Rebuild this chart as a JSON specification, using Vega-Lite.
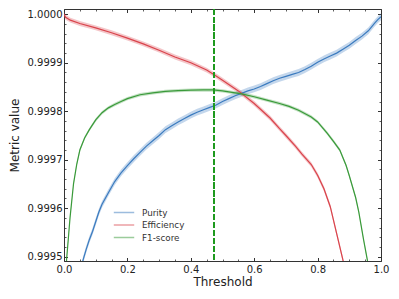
{
  "$schema": "https://vega.github.io/schema/vega-lite/v6.json",
  "width": 317,
  "height": 252,
  "autosize": {"type": "none"},
  "padding": {"left": 64, "top": 9, "right": 18, "bottom": 38},
  "config": {
    "font": "DejaVu Sans",
    "view": {"stroke": "#333333", "strokeWidth": 1},
    "axis": {"grid": false, "domain": false, "tickColor": "#333333", "labelColor": "#222222", "titleColor": "#222222", "labelFont": "DejaVu Sans", "titleFont": "DejaVu Sans", "titleFontWeight": "normal", "labelFlush": false, "labelOverlap": false},
    "legend": {"orient": "none", "legendX": 53, "legendY": 196.5, "padding": 0, "symbolType": "M-1.7,0H1.7", "symbolSize": 144, "symbolStrokeWidth": 1.5, "symbolOpacity": 0.5, "symbolFillColor": "transparent", "labelFontSize": 8.8, "labelFont": "DejaVu Sans", "labelColor": "#333333", "labelOffset": 11, "rowPadding": 0.5}
  },
  "data": {"values": [
    {"series": "Purity", "t": 0.05, "v": 0.99946, "lo": 0.999453, "hi": 0.999467},
    {"series": "Purity", "t": 0.06, "v": 0.999493, "lo": 0.999486, "hi": 0.9995},
    {"series": "Purity", "t": 0.07, "v": 0.999515, "lo": 0.999508, "hi": 0.999522},
    {"series": "Purity", "t": 0.08, "v": 0.999535, "lo": 0.999528, "hi": 0.999542},
    {"series": "Purity", "t": 0.09, "v": 0.999552, "lo": 0.999545, "hi": 0.999559},
    {"series": "Purity", "t": 0.10, "v": 0.999572, "lo": 0.999565, "hi": 0.999579},
    {"series": "Purity", "t": 0.11, "v": 0.999592, "lo": 0.999585, "hi": 0.999599},
    {"series": "Purity", "t": 0.12, "v": 0.999608, "lo": 0.999601, "hi": 0.999615},
    {"series": "Purity", "t": 0.14, "v": 0.999632, "lo": 0.999625, "hi": 0.999639},
    {"series": "Purity", "t": 0.16, "v": 0.999655, "lo": 0.999648, "hi": 0.999662},
    {"series": "Purity", "t": 0.18, "v": 0.999673, "lo": 0.999666, "hi": 0.99968},
    {"series": "Purity", "t": 0.20, "v": 0.999688, "lo": 0.999681, "hi": 0.999695},
    {"series": "Purity", "t": 0.22, "v": 0.999702, "lo": 0.999695, "hi": 0.999709},
    {"series": "Purity", "t": 0.24, "v": 0.999715, "lo": 0.999708, "hi": 0.999722},
    {"series": "Purity", "t": 0.26, "v": 0.999728, "lo": 0.999721, "hi": 0.999735},
    {"series": "Purity", "t": 0.28, "v": 0.999739, "lo": 0.999732, "hi": 0.999746},
    {"series": "Purity", "t": 0.30, "v": 0.99975, "lo": 0.999743, "hi": 0.999757},
    {"series": "Purity", "t": 0.32, "v": 0.999762, "lo": 0.999755, "hi": 0.999769},
    {"series": "Purity", "t": 0.34, "v": 0.99977, "lo": 0.999763, "hi": 0.999777},
    {"series": "Purity", "t": 0.36, "v": 0.999778, "lo": 0.999771, "hi": 0.999785},
    {"series": "Purity", "t": 0.38, "v": 0.999785, "lo": 0.999778, "hi": 0.999792},
    {"series": "Purity", "t": 0.40, "v": 0.999792, "lo": 0.999785, "hi": 0.999799},
    {"series": "Purity", "t": 0.42, "v": 0.999798, "lo": 0.999791, "hi": 0.999805},
    {"series": "Purity", "t": 0.44, "v": 0.999803, "lo": 0.999796, "hi": 0.99981},
    {"series": "Purity", "t": 0.46, "v": 0.999808, "lo": 0.999801, "hi": 0.999815},
    {"series": "Purity", "t": 0.48, "v": 0.999813, "lo": 0.999806, "hi": 0.99982},
    {"series": "Purity", "t": 0.50, "v": 0.99982, "lo": 0.999813, "hi": 0.999827},
    {"series": "Purity", "t": 0.52, "v": 0.999826, "lo": 0.999819, "hi": 0.999833},
    {"series": "Purity", "t": 0.54, "v": 0.999832, "lo": 0.999825, "hi": 0.999839},
    {"series": "Purity", "t": 0.56, "v": 0.999837, "lo": 0.99983, "hi": 0.999844},
    {"series": "Purity", "t": 0.58, "v": 0.999842, "lo": 0.999835, "hi": 0.999849},
    {"series": "Purity", "t": 0.60, "v": 0.999846, "lo": 0.999839, "hi": 0.999853},
    {"series": "Purity", "t": 0.62, "v": 0.999851, "lo": 0.999844, "hi": 0.999858},
    {"series": "Purity", "t": 0.64, "v": 0.999857, "lo": 0.99985, "hi": 0.999864},
    {"series": "Purity", "t": 0.66, "v": 0.999863, "lo": 0.999856, "hi": 0.99987},
    {"series": "Purity", "t": 0.68, "v": 0.999868, "lo": 0.999861, "hi": 0.999875},
    {"series": "Purity", "t": 0.70, "v": 0.999872, "lo": 0.999865, "hi": 0.999879},
    {"series": "Purity", "t": 0.72, "v": 0.999876, "lo": 0.999869, "hi": 0.999883},
    {"series": "Purity", "t": 0.74, "v": 0.99988, "lo": 0.999873, "hi": 0.999887},
    {"series": "Purity", "t": 0.76, "v": 0.999886, "lo": 0.999879, "hi": 0.999893},
    {"series": "Purity", "t": 0.78, "v": 0.999893, "lo": 0.999886, "hi": 0.9999},
    {"series": "Purity", "t": 0.80, "v": 0.999901, "lo": 0.999894, "hi": 0.999908},
    {"series": "Purity", "t": 0.82, "v": 0.999908, "lo": 0.999901, "hi": 0.999915},
    {"series": "Purity", "t": 0.84, "v": 0.999914, "lo": 0.999907, "hi": 0.999921},
    {"series": "Purity", "t": 0.86, "v": 0.99992, "lo": 0.999913, "hi": 0.999927},
    {"series": "Purity", "t": 0.88, "v": 0.999928, "lo": 0.999921, "hi": 0.999935},
    {"series": "Purity", "t": 0.90, "v": 0.999936, "lo": 0.999929, "hi": 0.999943},
    {"series": "Purity", "t": 0.92, "v": 0.999946, "lo": 0.999939, "hi": 0.999953},
    {"series": "Purity", "t": 0.94, "v": 0.999955, "lo": 0.999948, "hi": 0.999962},
    {"series": "Purity", "t": 0.96, "v": 0.999966, "lo": 0.999959, "hi": 0.999973},
    {"series": "Purity", "t": 0.98, "v": 0.999982, "lo": 0.999975, "hi": 0.999989},
    {"series": "Purity", "t": 0.99, "v": 0.999989, "lo": 0.999982, "hi": 0.999996},
    {"series": "Purity", "t": 1.00, "v": 0.999995, "lo": 0.999988, "hi": 1.000002},
    {"series": "Efficiency", "t": 0.0, "v": 1.0, "lo": 0.999995, "hi": 1.000005},
    {"series": "Efficiency", "t": 0.005, "v": 0.999994, "lo": 0.999989, "hi": 0.999999},
    {"series": "Efficiency", "t": 0.02, "v": 0.999988, "lo": 0.999983, "hi": 0.999993},
    {"series": "Efficiency", "t": 0.05, "v": 0.999981, "lo": 0.999976, "hi": 0.999986},
    {"series": "Efficiency", "t": 0.10, "v": 0.999972, "lo": 0.999967, "hi": 0.999977},
    {"series": "Efficiency", "t": 0.15, "v": 0.999962, "lo": 0.999957, "hi": 0.999967},
    {"series": "Efficiency", "t": 0.20, "v": 0.999951, "lo": 0.999946, "hi": 0.999956},
    {"series": "Efficiency", "t": 0.25, "v": 0.999939, "lo": 0.999934, "hi": 0.999944},
    {"series": "Efficiency", "t": 0.30, "v": 0.999926, "lo": 0.999921, "hi": 0.999931},
    {"series": "Efficiency", "t": 0.35, "v": 0.999912, "lo": 0.999907, "hi": 0.999917},
    {"series": "Efficiency", "t": 0.40, "v": 0.9999, "lo": 0.999895, "hi": 0.999905},
    {"series": "Efficiency", "t": 0.45, "v": 0.999885, "lo": 0.99988, "hi": 0.99989},
    {"series": "Efficiency", "t": 0.475, "v": 0.999875, "lo": 0.99987, "hi": 0.99988},
    {"series": "Efficiency", "t": 0.50, "v": 0.999864, "lo": 0.999859, "hi": 0.999869},
    {"series": "Efficiency", "t": 0.55, "v": 0.999842, "lo": 0.999837, "hi": 0.999847},
    {"series": "Efficiency", "t": 0.60, "v": 0.999816, "lo": 0.999811, "hi": 0.999821},
    {"series": "Efficiency", "t": 0.65, "v": 0.999786, "lo": 0.999781, "hi": 0.999791},
    {"series": "Efficiency", "t": 0.68, "v": 0.999764, "lo": 0.999759, "hi": 0.999769},
    {"series": "Efficiency", "t": 0.70, "v": 0.99975, "lo": 0.999745, "hi": 0.999755},
    {"series": "Efficiency", "t": 0.73, "v": 0.999728, "lo": 0.999723, "hi": 0.999733},
    {"series": "Efficiency", "t": 0.75, "v": 0.999712, "lo": 0.999707, "hi": 0.999717},
    {"series": "Efficiency", "t": 0.78, "v": 0.99969, "lo": 0.999685, "hi": 0.999695},
    {"series": "Efficiency", "t": 0.80, "v": 0.999668, "lo": 0.999663, "hi": 0.999673},
    {"series": "Efficiency", "t": 0.82, "v": 0.99964, "lo": 0.999635, "hi": 0.999645},
    {"series": "Efficiency", "t": 0.84, "v": 0.999603, "lo": 0.999598, "hi": 0.999608},
    {"series": "Efficiency", "t": 0.86, "v": 0.999548, "lo": 0.999543, "hi": 0.999553},
    {"series": "Efficiency", "t": 0.88, "v": 0.999493, "lo": 0.999488, "hi": 0.999498},
    {"series": "Efficiency", "t": 0.90, "v": 0.99942, "lo": 0.999415, "hi": 0.999425},
    {"series": "F1-score", "t": 0.004, "v": 0.99935, "lo": 0.9993465, "hi": 0.9993535},
    {"series": "F1-score", "t": 0.008, "v": 0.999493, "lo": 0.9994895, "hi": 0.9994965},
    {"series": "F1-score", "t": 0.014, "v": 0.99954, "lo": 0.9995365, "hi": 0.9995435},
    {"series": "F1-score", "t": 0.019, "v": 0.99958, "lo": 0.9995765, "hi": 0.9995835},
    {"series": "F1-score", "t": 0.03, "v": 0.99965, "lo": 0.9996465, "hi": 0.9996535},
    {"series": "F1-score", "t": 0.04, "v": 0.99969, "lo": 0.9996865, "hi": 0.9996935},
    {"series": "F1-score", "t": 0.05, "v": 0.99972, "lo": 0.9997165, "hi": 0.9997235},
    {"series": "F1-score", "t": 0.065, "v": 0.999745, "lo": 0.9997415, "hi": 0.9997485},
    {"series": "F1-score", "t": 0.08, "v": 0.999762, "lo": 0.9997585, "hi": 0.9997655},
    {"series": "F1-score", "t": 0.10, "v": 0.999782, "lo": 0.9997785, "hi": 0.9997855},
    {"series": "F1-score", "t": 0.12, "v": 0.999797, "lo": 0.9997935, "hi": 0.9998005},
    {"series": "F1-score", "t": 0.14, "v": 0.999807, "lo": 0.9998035, "hi": 0.9998105},
    {"series": "F1-score", "t": 0.16, "v": 0.999814, "lo": 0.9998105, "hi": 0.9998175},
    {"series": "F1-score", "t": 0.18, "v": 0.99982, "lo": 0.9998165, "hi": 0.9998235},
    {"series": "F1-score", "t": 0.20, "v": 0.999826, "lo": 0.9998225, "hi": 0.9998295},
    {"series": "F1-score", "t": 0.24, "v": 0.999834, "lo": 0.9998305, "hi": 0.9998375},
    {"series": "F1-score", "t": 0.28, "v": 0.999838, "lo": 0.9998345, "hi": 0.9998415},
    {"series": "F1-score", "t": 0.32, "v": 0.999841, "lo": 0.9998375, "hi": 0.9998445},
    {"series": "F1-score", "t": 0.36, "v": 0.9998425, "lo": 0.999839, "hi": 0.999846},
    {"series": "F1-score", "t": 0.40, "v": 0.9998435, "lo": 0.99984, "hi": 0.999847},
    {"series": "F1-score", "t": 0.44, "v": 0.999844, "lo": 0.9998405, "hi": 0.9998475},
    {"series": "F1-score", "t": 0.47, "v": 0.999844, "lo": 0.9998405, "hi": 0.9998475},
    {"series": "F1-score", "t": 0.50, "v": 0.999842, "lo": 0.9998385, "hi": 0.9998455},
    {"series": "F1-score", "t": 0.53, "v": 0.999839, "lo": 0.9998355, "hi": 0.9998425},
    {"series": "F1-score", "t": 0.56, "v": 0.999836, "lo": 0.9998325, "hi": 0.9998395},
    {"series": "F1-score", "t": 0.60, "v": 0.99983, "lo": 0.9998265, "hi": 0.9998335},
    {"series": "F1-score", "t": 0.64, "v": 0.999823, "lo": 0.9998195, "hi": 0.9998265},
    {"series": "F1-score", "t": 0.68, "v": 0.999816, "lo": 0.9998125, "hi": 0.9998195},
    {"series": "F1-score", "t": 0.71, "v": 0.99981, "lo": 0.9998065, "hi": 0.9998135},
    {"series": "F1-score", "t": 0.74, "v": 0.999802, "lo": 0.9997985, "hi": 0.9998055},
    {"series": "F1-score", "t": 0.78, "v": 0.999788, "lo": 0.9997845, "hi": 0.9997915},
    {"series": "F1-score", "t": 0.80, "v": 0.999778, "lo": 0.9997745, "hi": 0.9997815},
    {"series": "F1-score", "t": 0.83, "v": 0.999755, "lo": 0.9997515, "hi": 0.9997585},
    {"series": "F1-score", "t": 0.85, "v": 0.999738, "lo": 0.9997345, "hi": 0.9997415},
    {"series": "F1-score", "t": 0.87, "v": 0.99972, "lo": 0.9997165, "hi": 0.9997235},
    {"series": "F1-score", "t": 0.89, "v": 0.999688, "lo": 0.9996845, "hi": 0.9996915},
    {"series": "F1-score", "t": 0.90, "v": 0.999667, "lo": 0.9996635, "hi": 0.9996705},
    {"series": "F1-score", "t": 0.92, "v": 0.999622, "lo": 0.9996185, "hi": 0.9996255},
    {"series": "F1-score", "t": 0.93, "v": 0.999592, "lo": 0.9995885, "hi": 0.9995955},
    {"series": "F1-score", "t": 0.945, "v": 0.999535, "lo": 0.9995315, "hi": 0.9995385},
    {"series": "F1-score", "t": 0.957, "v": 0.999493, "lo": 0.9994895, "hi": 0.9994965},
    {"series": "F1-score", "t": 0.97, "v": 0.99942, "lo": 0.9994165, "hi": 0.9994235}
  ]},
  "layer": [
    {
      "mark": {"type": "area", "opacity": 0.3, "clip": true},
      "encoding": {
        "x": {"field": "t", "type": "quantitative", "axis": null},
        "y": {"field": "lo", "type": "quantitative", "axis": null},
        "y2": {"field": "hi"},
        "color": {"field": "series", "type": "nominal", "title": null}
      }
    },
    {
      "mark": {"type": "line", "strokeWidth": 1.2, "clip": true},
      "encoding": {
        "x": {"field": "t", "type": "quantitative",
          "scale": {"domain": [0, 1], "nice": false, "zero": false},
          "axis": {"orient": "bottom", "values": [0, 0.2, 0.4, 0.6, 0.8, 1.0], "format": ".1f", "tickSize": -3.5, "tickWidth": 1, "labelPadding": 7, "labelFontSize": 10, "title": "Threshold", "titleFontSize": 12, "titlePadding": 2}},
        "y": {"field": "v", "type": "quantitative",
          "scale": {"domain": [0.999491, 1.000011], "nice": false, "zero": false},
          "axis": {"orient": "left", "values": [0.9995, 0.9996, 0.9997, 0.9998, 0.9999, 1.0], "format": ".4f", "tickSize": -3.5, "tickWidth": 1, "labelPadding": 5.5, "labelFontSize": 10, "title": "Metric value", "titleFontSize": 12, "titlePadding": 6}},
        "color": {"field": "series", "type": "nominal", "title": null,
          "scale": {"domain": ["Purity", "Efficiency", "F1-score"], "range": ["#3b7bbf", "#d9434b", "#3a9a3a"]}}
      }
    },
    {
      "mark": {"type": "point", "opacity": 0},
      "encoding": {
        "x": {"field": "t", "type": "quantitative",
          "axis": {"orient": "bottom", "values": [0, 0.05, 0.1, 0.15, 0.2, 0.25, 0.3, 0.35, 0.4, 0.45, 0.5, 0.55, 0.6, 0.65, 0.7, 0.75, 0.8, 0.85, 0.9, 0.95, 1.0], "tickSize": -2, "tickWidth": 0.8, "labels": false, "title": null}},
        "y": {"field": "v", "type": "quantitative",
          "axis": {"orient": "left", "values": [0.9995, 0.99952, 0.99954, 0.99956, 0.99958, 0.9996, 0.99962, 0.99964, 0.99966, 0.99968, 0.9997, 0.99972, 0.99974, 0.99976, 0.99978, 0.9998, 0.99982, 0.99984, 0.99986, 0.99988, 0.9999, 0.99992, 0.99994, 0.99996, 0.99998, 1.0], "tickSize": -2, "tickWidth": 0.8, "labels": false, "title": null}}
      }
    },
    {
      "mark": {"type": "point", "opacity": 0},
      "encoding": {
        "x": {"field": "t", "type": "quantitative",
          "axis": {"orient": "top", "values": [0, 0.2, 0.4, 0.6, 0.8, 1.0], "tickSize": -3.5, "tickWidth": 1, "labels": false, "title": null}},
        "y": {"field": "v", "type": "quantitative",
          "axis": {"orient": "right", "values": [0.9995, 0.9996, 0.9997, 0.9998, 0.9999, 1.0], "tickSize": -3.5, "tickWidth": 1, "labels": false, "title": null}}
      }
    },
    {
      "mark": {"type": "point", "opacity": 0},
      "encoding": {
        "x": {"field": "t", "type": "quantitative",
          "axis": {"orient": "top", "values": [0, 0.05, 0.1, 0.15, 0.2, 0.25, 0.3, 0.35, 0.4, 0.45, 0.5, 0.55, 0.6, 0.65, 0.7, 0.75, 0.8, 0.85, 0.9, 0.95, 1.0], "tickSize": -2, "tickWidth": 0.8, "labels": false, "title": null}},
        "y": {"field": "v", "type": "quantitative",
          "axis": {"orient": "right", "values": [0.9995, 0.99952, 0.99954, 0.99956, 0.99958, 0.9996, 0.99962, 0.99964, 0.99966, 0.99968, 0.9997, 0.99972, 0.99974, 0.99976, 0.99978, 0.9998, 0.99982, 0.99984, 0.99986, 0.99988, 0.9999, 0.99992, 0.99994, 0.99996, 0.99998, 1.0], "tickSize": -2, "tickWidth": 0.8, "labels": false, "title": null}}
      }
    },
    {
      "mark": {"type": "rule", "color": "#1f9a1f", "strokeWidth": 1.5, "strokeDash": [5.5, 2.4]},
      "encoding": {
        "x": {"datum": 0.473, "type": "quantitative", "axis": null}
      }
    }
  ],
  "resolve": {
    "scale": {"x": "shared", "y": "shared", "color": "shared"},
    "axis": {"x": "independent", "y": "independent"}
  }
}
